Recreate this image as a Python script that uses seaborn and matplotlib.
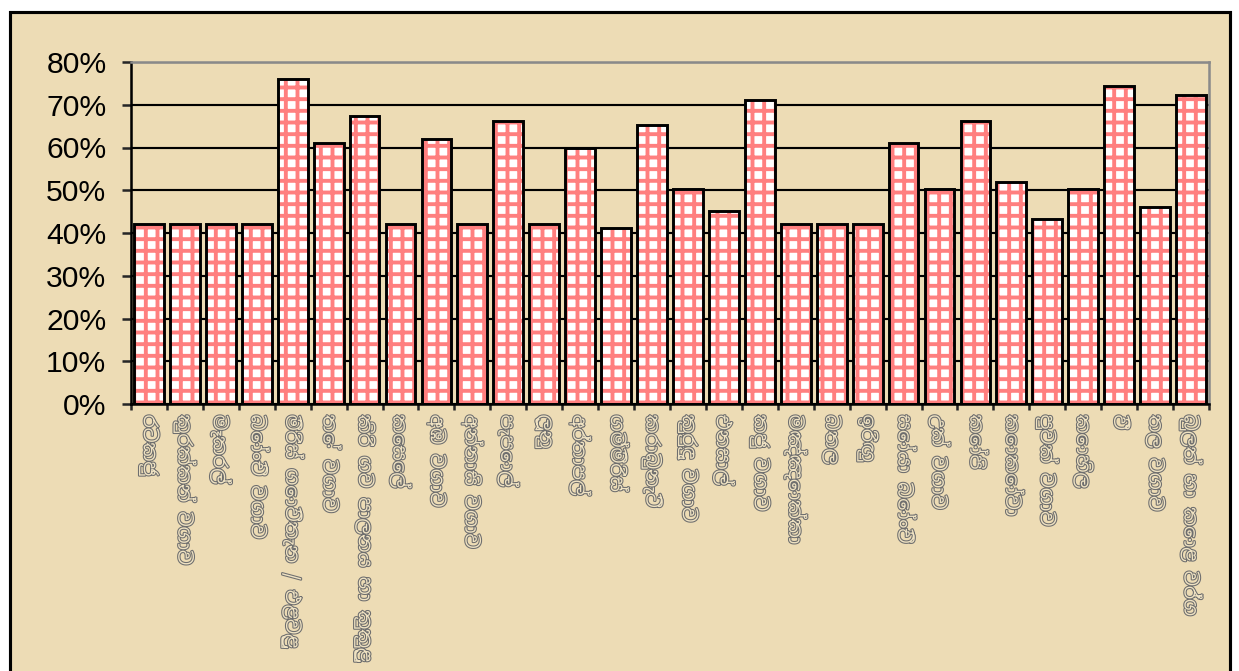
import pandas as pd
import seaborn as sns
import matplotlib.pyplot as plt
import matplotlib.patheffects as pe
from matplotlib.patches import Rectangle
from matplotlib.ticker import PercentFormatter, MultipleLocator


labels = [
    "රටකජු", "කුරක්කන් වගාව", "මෑකරල්", "බෝංචි වගාව",
    "මිරිස් ගොවිතැන / එළවළු", "තේ වගාව", "කිරි ගව පාලනය හා කුකුළු",
    "කෙසෙල්", "අඹ වගාව", "අන්නාසි වගාව", "පැපොල්", "ලූනු",
    "අර්තාපල්", "ගම්මිරිස්", "කරාබුනැටි", "කුරුඳු වගාව", "එනසාල්",
    "කජු වගාව", "මඤ්ඤොක්කා", "බතල", "ඉරිඟු", "සෝයා බෝංචි",
    "උක් වගාව", "කෝපි", "කොකෝවා", "පුවක් වගාව", "කොහිල", "වී",
    "තල වගාව", "බුලත් හා කොළ වර්ග",
]
values = [
    42, 42, 42, 42, 76, 61, 67.4, 42, 62, 42,
    66.2, 42, 60, 41.2, 65.3, 50.3, 45.1, 71.1, 42, 42,
    42, 61, 50.3, 66.2, 51.9, 43.3, 50.3, 74.4, 46, 72.3,
]

df = pd.DataFrame({'label': labels, 'value': values})

sns.set_style('white')
plt.rcParams['font.family'] = ['Liberation Sans', 'DejaVu Sans']
plt.rcParams['hatch.linewidth'] = 2.0

# dpi 140 so that the '++' hatch gives a ~12 px grid
DPI = 140
fig = plt.figure(figsize=(1239 / DPI, 671 / DPI), dpi=DPI, facecolor='white')
# parchment panel behind the chart
fig.patches.append(Rectangle((10 / 1239, -0.02), 1220 / 1239, 1 - 12 / 671 + 0.02,
                             transform=fig.transFigure, facecolor='#EDDCB5',
                             edgecolor='black', linewidth=1.6, zorder=-1))

ax = fig.add_axes([131 / 1239, 1 - 404 / 671, (1209 - 131) / 1239, (404 - 62) / 671])
ax.set_facecolor('none')

sns.barplot(data=df, x='label', y='value', color='white', edgecolor='#FF7F7F',
            hatch='++', linewidth=0, width=0.83, saturation=1, ax=ax, zorder=2)
# black outline on top of the hatched bars
for bar in list(ax.patches):
    ax.add_patch(Rectangle(bar.get_xy(), bar.get_width(), bar.get_height(),
                           fill=False, edgecolor='black', linewidth=1.5, zorder=3))

ax.set_ylim(0, 80)
ax.set_xlim(-0.5, len(labels) - 0.5)
ax.yaxis.set_major_locator(MultipleLocator(10))
ax.yaxis.set_major_formatter(PercentFormatter(100, decimals=0))
ax.xaxis.set_minor_locator(MultipleLocator(1, offset=0.5))

ax.set_axisbelow(True)
ax.yaxis.grid(True, color='black', linewidth=1.1)
ax.yaxis.get_gridlines()[-1].set_visible(False)

for side in ['left', 'bottom']:
    ax.spines[side].set_color('black')
    ax.spines[side].set_linewidth(1.3)
for side in ['top', 'right']:
    ax.spines[side].set_color('#8a8a8a')
    ax.spines[side].set_linewidth(1.3)

ax.tick_params(axis='y', direction='out', length=4.6, width=1.3, labelsize=15.5,
               labelcolor='black', pad=8, left=True)
ax.tick_params(axis='x', which='major', length=0, pad=5.5)
ax.tick_params(axis='x', which='minor', direction='out', length=3, width=1.3, bottom=True)

ax.set_xlabel('')
ax.set_ylabel('')
ax.set_xticks(range(len(labels)))
ax.set_xticklabels(labels, rotation=-90, ha='center', va='top', fontsize=9.6,
                   color='#EFE2C2', family=['Noto Sans Sinhala', 'Noto Sans', 'DejaVu Sans'])
for t in ax.get_xticklabels():
    t.set_path_effects([pe.withStroke(linewidth=1.1, foreground='#6e6e6e')])

fig.savefig('out.png', dpi=DPI, facecolor='white')
